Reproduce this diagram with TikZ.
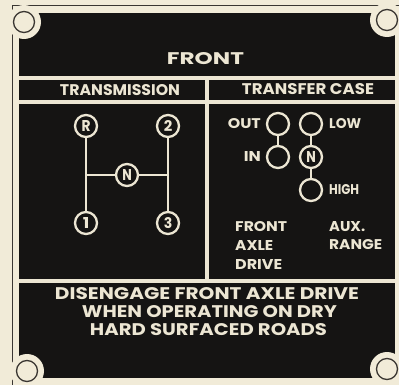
\documentclass[tikz,border=0pt]{standalone}
\usepackage{fontspec}
\setmainfont{Poppins}
\usepackage{graphicx}
\definecolor{paper}{HTML}{F1EBD8}
\definecolor{plate}{HTML}{151413}
\definecolor{band}{HTML}{ECE6D3}
\definecolor{rim}{HTML}{3A3632}
\newcommand{\fitt}[3]{\resizebox{#1pt}{#2pt}{\bfseries #3}}
\tikzset{
  knob/.style={circle, draw=band, line width=2.3pt, fill=plate, minimum size=22pt, inner sep=0pt, text=band},
  wire/.style={draw=band, line width=2pt},
  lbl/.style={inner sep=0pt, text=band},
  hole/.style={draw=rim, line width=1.3pt, fill=paper}
}
\begin{document}
\begin{tikzpicture}[x=1pt,y=-1pt]
\useasboundingbox (0,0) rectangle (399,385);
\fill[paper] (0,0) rectangle (399,385);
\draw[rim, line width=0.9pt] (12,385) -- (12,5) -- (399,5);
\fill[plate] (19,13) rectangle (395,378);
% corner notches and holes
\foreach \cx/\cy in {24/22, 387/20, 27/371, 387/369}{
  \fill[paper] (\cx,\cy) circle (17);
  \draw[hole] (\cx,\cy) circle (10.5);
}
% bands
\fill[band] (19,76) rectangle (395,80);
\fill[band] (19,100) rectangle (395,104);
\fill[band] (205,78) rectangle (209,281);
\fill[band] (19,279) rectangle (395,283);
% headings
\node[lbl] (front) at (205.5,59) {\fitt{77}{12}{FRONT}};
\node[lbl] (trans) at (120,90.5) {\fitt{120}{11}{TRANSMISSION}};
\node[lbl] (tcase) at (308,89.5) {\fitt{132}{11}{TRANSFER CASE}};
% transmission pattern
\node[knob] (R) at (86,126) {\fitt{9}{11}{R}};
\node[knob] (two) at (168,126) {\fitt{8.5}{11}{2}};
\node[knob] (N) at (127,175) {\fitt{9.5}{11}{N}};
\node[knob] (one) at (86,223) {\fitt{6.5}{11}{1}};
\node[knob] (three) at (168,223) {\fitt{8.5}{11}{3}};
\coordinate (nl) at (86,175);
\coordinate (nr) at (168,175);
\draw[wire] (R) -- (one);
\draw[wire] (two) -- (three);
\draw[wire] (nl) -- (N) -- (nr);
% transfer case pattern
\node[knob] (out) at (278,124) {};
\node[knob] (in) at (278,157) {};
\node[knob] (low) at (311,124) {};
\node[knob] (tn) at (311,157) {\fitt{9.5}{11}{N}};
\node[knob] (high) at (311,190) {};
\draw[wire] (out) -- (in);
\draw[wire] (low) -- (tn) -- (high);
\node[lbl, anchor=east] (outl) at (261,124) {\fitt{33}{10}{OUT}};
\node[lbl, anchor=east] (inl) at (261,157) {\fitt{17}{10}{IN}};
\node[lbl, anchor=west] (lowl) at (329,124) {\fitt{32}{10}{LOW}};
\node[lbl, anchor=west] (highl) at (329,190) {\fitt{30}{10}{HIGH}};
\node[lbl, anchor=west] (fad1) at (235,227) {\fitt{52}{10}{FRONT}};
\node[lbl, anchor=west] (fad2) at (235,245) {\fitt{38}{10}{AXLE}};
\node[lbl, anchor=west] (fad3) at (235,264) {\fitt{47}{10}{DRIVE}};
\node[lbl, anchor=west] (aux1) at (329,227) {\fitt{36}{10}{AUX.}};
\node[lbl, anchor=west] (aux2) at (329,245) {\fitt{53}{10}{RANGE}};
% bottom notice
\node[lbl] (l1) at (207,294) {\fitt{304}{12}{DISENGAGE FRONT AXLE DRIVE}};
\node[lbl] (l2) at (209.5,312) {\fitt{255}{12}{WHEN OPERATING ON DRY}};
\node[lbl] (l3) at (208.5,330) {\fitt{237}{12}{HARD SURFACED ROADS}};
\end{tikzpicture}
\end{document}
